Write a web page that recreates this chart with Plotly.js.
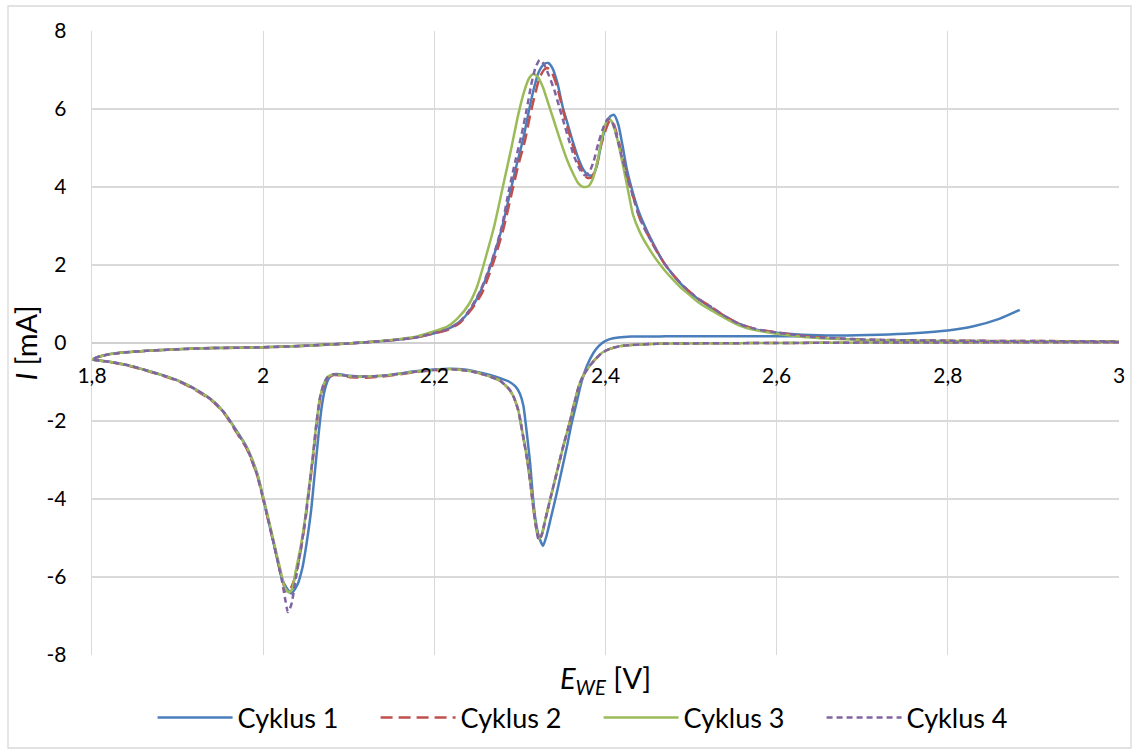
<!DOCTYPE html>
<html>
<head>
<meta charset="utf-8">
<script src="https://cdn.plot.ly/plotly-3.0.1.min.js"></script>
<style>html,body{margin:0;padding:0;background:#fff;}#chart{width:1139px;height:755px;}</style>
</head>
<body>
<div id="chart"></div>
<script>
// ---------- DATA ----------
const seriesNames = ["Cyklus 1", "Cyklus 2", "Cyklus 3", "Cyklus 4"];
const xTickVals = [1.8, 2.0, 2.2, 2.4, 2.6, 2.8, 3.0];
const xTickText = ["1,8", "2", "2,2", "2,4", "2,6", "2,8", "3"];
const yTickVals = [-8, -6, -4, -2, 0, 2, 4, 6, 8];
const yTickText = ["-8", "-6", "-4", "-2", "0", "2", "4", "6", "8"];
const xTitle = "<i>E</i><sub><i>WE</i></sub> [V]";
const yTitle = "<i>I</i> [mA]";

// Cyklus 1
const c1_x = [2.65,2.55,2.47,2.43,2.415,2.405,2.398,2.392,2.386,2.378,2.372,2.366,2.36,2.355,2.349,2.343,2.336,2.331,2.327,2.322,2.318,2.315,2.312,2.308,2.304,2.3,2.295,2.288,2.28,2.265,2.25,2.235,2.22,2.2,2.18,2.16,2.14,2.12,2.1,2.09,2.083,2.077,2.072,2.068,2.064,2.06,2.056,2.051,2.046,2.04,2.033,2.028,2.022,2.014,2.004,1.993,1.981,1.969,1.955,1.941,1.922,1.9,1.883,1.86,1.844,1.82,1.8,
  1.81,1.82,1.84,1.864,1.9,1.941,2.0,2.05,2.1,2.15,2.18,2.2,2.215,2.23,2.242,2.253,2.262,2.269,2.279,2.288,2.296,2.304,2.31,2.316,2.322,2.328,2.333,2.338,2.344,2.35,2.356,2.362,2.368,2.374,2.38,2.385,2.39,2.395,2.4,2.405,2.41,2.415,2.42,2.425,2.432,2.44,2.449,2.457,2.467,2.477,2.487,2.498,2.51,2.525,2.54,2.555,2.575,2.6,2.63,2.67,2.72,2.76,2.8,2.83,2.86,2.884];
const c1_y = [0.17,0.17,0.17,0.165,0.14,0.1,0.03,-0.08,-0.25,-0.6,-1.0,-1.55,-2.1,-2.65,-3.25,-3.85,-4.5,-4.95,-5.2,-4.95,-4.5,-3.9,-3.1,-2.3,-1.6,-1.3,-1.12,-1.0,-0.93,-0.82,-0.74,-0.68,-0.66,-0.68,-0.72,-0.78,-0.84,-0.86,-0.84,-0.8,-0.8,-0.9,-1.2,-1.7,-2.5,-3.4,-4.3,-5.1,-5.75,-6.2,-6.42,-6.3,-6.05,-5.3,-4.36,-3.35,-2.68,-2.25,-1.8,-1.48,-1.2,-0.96,-0.83,-0.68,-0.58,-0.48,-0.42,
  -0.34,-0.29,-0.24,-0.2,-0.16,-0.13,-0.11,-0.07,-0.01,0.07,0.15,0.25,0.35,0.55,0.85,1.28,1.75,2.2,2.95,3.8,4.55,5.25,5.9,6.5,6.95,7.15,7.18,7.05,6.65,6.05,5.6,5.15,4.75,4.45,4.3,4.3,4.55,5.1,5.55,5.8,5.85,5.6,5.05,4.45,3.85,3.3,2.85,2.5,2.1,1.8,1.54,1.3,1.1,0.88,0.68,0.5,0.35,0.26,0.21,0.19,0.21,0.25,0.32,0.43,0.62,0.85];

// Cyklus 2
const c2_x = [3.0,2.9,2.8,2.7,2.6,2.5,2.46,2.44,2.43,2.417,2.405,2.396,2.388,2.381,2.375,2.37,2.364,2.358,2.35,2.343,2.336,2.33,2.325,2.322,2.318,2.315,2.312,2.308,2.303,2.298,2.293,2.288,2.277,2.265,2.25,2.235,2.22,2.2,2.18,2.16,2.14,2.12,2.1,2.09,2.082,2.075,2.07,2.066,2.062,2.058,2.053,2.049,2.044,2.038,2.032,2.027,2.022,2.014,2.004,1.993,1.981,1.969,1.955,1.941,1.922,1.9,1.883,1.86,1.844,1.82,1.8,
  1.81,1.82,1.84,1.864,1.9,1.941,2.0,2.05,2.1,2.15,2.18,2.2,2.215,2.23,2.243,2.255,2.264,2.271,2.281,2.29,2.298,2.306,2.312,2.318,2.323,2.328,2.332,2.337,2.343,2.35,2.356,2.362,2.368,2.374,2.379,2.384,2.389,2.394,2.4,2.405,2.409,2.414,2.42,2.426,2.433,2.44,2.45,2.46,2.47,2.48,2.49,2.5,2.512,2.522,2.535,2.555,2.575,2.6,2.64,2.7,2.8,2.9,3.0];
const c2_y = [0.02,0.02,0.015,0.01,0.0,-0.01,-0.02,-0.04,-0.05,-0.08,-0.15,-0.25,-0.42,-0.6,-0.8,-1.03,-1.5,-2.05,-2.7,-3.33,-3.95,-4.5,-4.95,-5.0,-4.6,-4.1,-3.55,-2.92,-2.3,-1.72,-1.4,-1.2,-0.97,-0.86,-0.76,-0.7,-0.68,-0.7,-0.74,-0.8,-0.86,-0.89,-0.87,-0.83,-0.82,-0.9,-1.15,-1.5,-2.2,-3.0,-3.9,-4.6,-5.3,-5.95,-6.3,-6.38,-6.05,-5.3,-4.36,-3.4,-2.72,-2.3,-1.82,-1.5,-1.22,-0.97,-0.84,-0.69,-0.59,-0.48,-0.42,
  -0.34,-0.29,-0.24,-0.2,-0.16,-0.13,-0.11,-0.07,-0.01,0.07,0.15,0.25,0.33,0.52,0.85,1.25,1.75,2.2,2.95,3.8,4.55,5.2,5.85,6.4,6.8,7.0,7.05,6.95,6.6,6.0,5.5,5.05,4.65,4.35,4.23,4.25,4.5,5.0,5.45,5.7,5.65,5.3,4.75,4.2,3.7,3.2,2.75,2.35,2.0,1.72,1.48,1.28,1.08,0.95,0.75,0.5,0.36,0.27,0.16,0.09,0.06,0.05,0.04];

// Cyklus 3
const c3_x = [3.0,2.9,2.8,2.7,2.6,2.5,2.46,2.44,2.43,2.417,2.405,2.396,2.388,2.381,2.375,2.37,2.364,2.358,2.35,2.343,2.336,2.33,2.325,2.322,2.318,2.315,2.312,2.308,2.303,2.298,2.293,2.288,2.277,2.265,2.25,2.235,2.22,2.2,2.18,2.16,2.14,2.12,2.1,2.09,2.082,2.075,2.07,2.066,2.062,2.058,2.053,2.049,2.044,2.038,2.034,2.03,2.025,2.02,2.014,2.004,1.993,1.981,1.969,1.955,1.941,1.922,1.9,1.883,1.86,1.844,1.82,1.8,
  1.81,1.82,1.84,1.864,1.9,1.941,2.0,2.05,2.1,2.15,2.18,2.2,2.215,2.228,2.24,2.25,2.262,2.27,2.28,2.29,2.298,2.305,2.311,2.316,2.321,2.327,2.333,2.339,2.347,2.355,2.362,2.368,2.374,2.38,2.385,2.39,2.395,2.4,2.404,2.408,2.413,2.42,2.426,2.432,2.44,2.45,2.46,2.47,2.48,2.49,2.5,2.51,2.525,2.54,2.555,2.575,2.6,2.64,2.7,2.8,2.9,3.0];
const c3_y = [0.02,0.02,0.015,0.01,0.0,-0.01,-0.02,-0.04,-0.05,-0.08,-0.15,-0.25,-0.42,-0.6,-0.8,-1.03,-1.5,-2.05,-2.7,-3.33,-3.95,-4.5,-4.95,-5.02,-4.6,-4.1,-3.55,-2.92,-2.3,-1.72,-1.4,-1.2,-0.97,-0.86,-0.76,-0.7,-0.67,-0.69,-0.73,-0.79,-0.84,-0.86,-0.85,-0.82,-0.8,-0.88,-1.1,-1.45,-2.1,-2.9,-3.8,-4.5,-5.2,-5.85,-6.3,-6.4,-6.25,-5.8,-5.25,-4.3,-3.35,-2.68,-2.27,-1.8,-1.48,-1.2,-0.96,-0.83,-0.68,-0.58,-0.48,-0.42,
  -0.34,-0.29,-0.24,-0.2,-0.16,-0.13,-0.11,-0.07,-0.01,0.08,0.17,0.3,0.42,0.65,0.98,1.45,2.35,3.0,4.0,5.0,5.85,6.45,6.8,6.9,6.82,6.55,6.15,5.75,5.2,4.7,4.35,4.1,4.0,4.02,4.2,4.6,5.15,5.62,5.75,5.65,5.3,4.6,3.95,3.3,2.85,2.45,2.12,1.84,1.6,1.38,1.2,1.02,0.82,0.63,0.46,0.33,0.24,0.14,0.08,0.05,0.045,0.04];

// Cyklus 4
const c4_x = [3.0,2.9,2.8,2.7,2.6,2.5,2.46,2.44,2.43,2.417,2.405,2.396,2.388,2.381,2.375,2.37,2.364,2.358,2.35,2.343,2.336,2.33,2.325,2.322,2.318,2.315,2.312,2.308,2.303,2.298,2.293,2.288,2.277,2.265,2.25,2.235,2.22,2.2,2.18,2.16,2.14,2.12,2.1,2.09,2.082,2.075,2.07,2.066,2.062,2.058,2.053,2.049,2.044,2.038,2.033,2.029,2.026,2.022,2.014,2.004,1.993,1.981,1.969,1.955,1.941,1.922,1.9,1.883,1.86,1.844,1.82,1.8,
  1.81,1.82,1.84,1.864,1.9,1.941,2.0,2.05,2.1,2.15,2.18,2.2,2.215,2.23,2.242,2.254,2.263,2.27,2.279,2.287,2.295,2.302,2.308,2.313,2.318,2.323,2.328,2.334,2.34,2.346,2.352,2.358,2.364,2.37,2.376,2.381,2.386,2.392,2.398,2.403,2.408,2.413,2.42,2.426,2.433,2.44,2.45,2.46,2.47,2.48,2.49,2.5,2.512,2.522,2.535,2.555,2.575,2.6,2.64,2.7,2.8,2.9,3.0];
const c4_y = [0.02,0.02,0.015,0.01,0.0,-0.01,-0.02,-0.04,-0.05,-0.08,-0.15,-0.25,-0.42,-0.6,-0.8,-1.03,-1.5,-2.05,-2.7,-3.33,-3.95,-4.5,-4.95,-5.05,-4.6,-4.1,-3.55,-2.92,-2.3,-1.72,-1.4,-1.2,-0.97,-0.86,-0.76,-0.7,-0.67,-0.69,-0.73,-0.79,-0.84,-0.86,-0.85,-0.82,-0.8,-0.88,-1.1,-1.45,-2.1,-2.95,-3.85,-4.55,-5.3,-6.05,-6.7,-6.9,-6.6,-6.1,-5.3,-4.36,-3.4,-2.7,-2.28,-1.8,-1.48,-1.2,-0.96,-0.83,-0.68,-0.58,-0.48,-0.42,
  -0.34,-0.29,-0.24,-0.2,-0.16,-0.13,-0.11,-0.07,-0.01,0.07,0.15,0.26,0.35,0.55,0.88,1.35,1.85,2.3,3.0,3.9,4.7,5.35,6.0,6.6,7.05,7.26,7.15,6.85,6.5,6.05,5.6,5.15,4.75,4.45,4.3,4.38,4.65,5.15,5.55,5.75,5.65,5.3,4.7,4.2,3.7,3.2,2.75,2.35,2.0,1.72,1.48,1.28,1.08,0.95,0.75,0.5,0.36,0.27,0.16,0.09,0.06,0.05,0.04];

// ---------- STYLE ----------
const colors = ["#4a7ebb", "#c0504d", "#9bbb59", "#8064a2"];
const dashes = ["solid", "12px,6px", "solid", "6px,4px"];
const xs = [c1_x, c2_x, c3_x, c4_x];
const ys = [c1_y, c2_y, c3_y, c4_y];
const FONT = "Lato, 'Open Sans', sans-serif";

const traces = seriesNames.map((name, i) => ({
  type: "scatter",
  mode: "lines",
  name: name,
  x: xs[i],
  y: ys[i],
  line: {color: colors[i], width: 2.5, dash: dashes[i], shape: "spline", smoothing: 0.6},
  hoverinfo: "x+y+name"
}));

const grid = "#d9d9d9";
const layout = {
  width: 1139,
  height: 755,
  margin: {l: 92, r: 20, t: 31, b: 100},
  paper_bgcolor: "#ffffff",
  plot_bgcolor: "#ffffff",
  font: {family: FONT, size: 20, color: "#000000"},
  separators: ", ",
  showlegend: true,
  legend: {
    orientation: "h",
    x: 0.059, xanchor: "left",
    y: -0.101, yanchor: "middle",
    font: {family: FONT, size: 27, color: "#000"},
    bgcolor: "rgba(0,0,0,0)",
    entrywidth: 133,
    itemwidth: 75
  },
  xaxis: {
    range: [1.8, 3.0],
    anchor: "free",
    position: 0.5,
    tickmode: "array",
    tickvals: xTickVals,
    ticktext: xTickText,
    showgrid: true,
    gridcolor: grid,
    gridwidth: 1.3,
    zeroline: false,
    showline: false,
    ticks: "",
    ticklabelstandoff: 18,
    tickfont: {family: FONT, size: 21}
  },
  yaxis: {
    range: [-8, 8],
    tickmode: "array",
    tickvals: yTickVals,
    ticktext: yTickText,
    showgrid: true,
    gridcolor: grid,
    gridwidth: 1.3,
    zeroline: true,
    zerolinecolor: "#d0d0d0",
    zerolinewidth: 1.5,
    showline: true,
    linecolor: grid,
    linewidth: 1.3,
    ticks: "",
    ticklabelstandoff: 20,
    tickfont: {family: FONT, size: 21},
    title: {text: yTitle, font: {family: FONT, size: 29}, standoff: 0}
  },
  annotations: [{
    text: xTitle, xref: "paper", yref: "paper", x: 0.5, y: -0.04,
    xanchor: "center", yanchor: "middle", showarrow: false,
    font: {family: FONT, size: 29, color: "#000"}
  }],
  shapes: [{
    type: "rect", xref: "paper", yref: "paper",
    x0: -0.0818, x1: 1.0117, y0: -0.149, y1: 1.0401,
    line: {color: "#d9d9d9", width: 1.3}, fillcolor: "rgba(0,0,0,0)", layer: "below"
  }]
};

Plotly.newPlot("chart", traces, layout, {displayModeBar: false, staticPlot: true});
</script>
</body>
</html>
